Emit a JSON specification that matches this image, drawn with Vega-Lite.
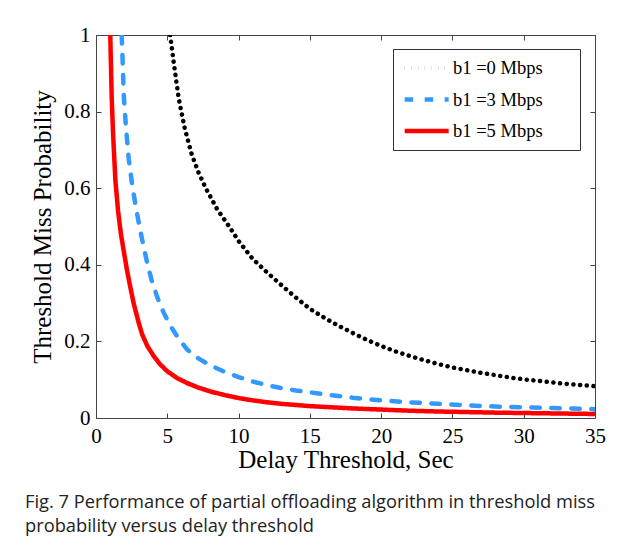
{
  "$schema": "https://vega.github.io/schema/vega-lite/v6.json",
  "autosize": {"type": "none"},
  "width": 499,
  "height": 383,
  "padding": {"left": 96, "top": 35, "right": 31, "bottom": 129},
  "background": "white",
  "title": {
    "text": ["Fig. 7 Performance of partial offloading algorithm in threshold miss", "probability versus delay threshold"],
    "orient": "bottom",
    "anchor": "start",
    "frame": "group",
    "dx": -71,
    "offset": 22,
    "font": "Open Sans",
    "fontSize": 18.3,
    "fontWeight": "normal",
    "color": "#222222",
    "lineHeight": 24
  },
  "config": {
    "view": {"stroke": null},
    "axis": {
      "grid": false,
      "domainColor": "#444444",
      "tickColor": "#444444",
      "labelFont": "Liberation Serif",
      "labelFontSize": 21,
      "labelColor": "black",
      "labelFlush": false,
      "titleFont": "Liberation Serif",
      "titleFontSize": 25,
      "titleFontWeight": "normal",
      "titleColor": "black"
    }
  },
  "data": {
    "values": [
      {"s": "b1 =0 Mbps", "x": 5.2, "y": 1.0},
      {"s": "b1 =0 Mbps", "x": 5.5, "y": 0.915},
      {"s": "b1 =0 Mbps", "x": 5.8, "y": 0.835},
      {"s": "b1 =0 Mbps", "x": 6.2, "y": 0.76},
      {"s": "b1 =0 Mbps", "x": 6.7, "y": 0.69},
      {"s": "b1 =0 Mbps", "x": 7.2, "y": 0.64},
      {"s": "b1 =0 Mbps", "x": 7.7, "y": 0.6},
      {"s": "b1 =0 Mbps", "x": 8.5, "y": 0.545},
      {"s": "b1 =0 Mbps", "x": 9.4, "y": 0.497},
      {"s": "b1 =0 Mbps", "x": 10, "y": 0.462},
      {"s": "b1 =0 Mbps", "x": 11, "y": 0.415},
      {"s": "b1 =0 Mbps", "x": 12, "y": 0.38},
      {"s": "b1 =0 Mbps", "x": 13, "y": 0.347},
      {"s": "b1 =0 Mbps", "x": 14, "y": 0.315},
      {"s": "b1 =0 Mbps", "x": 15, "y": 0.285},
      {"s": "b1 =0 Mbps", "x": 16, "y": 0.262},
      {"s": "b1 =0 Mbps", "x": 17, "y": 0.241},
      {"s": "b1 =0 Mbps", "x": 18, "y": 0.222},
      {"s": "b1 =0 Mbps", "x": 19, "y": 0.204},
      {"s": "b1 =0 Mbps", "x": 20, "y": 0.188},
      {"s": "b1 =0 Mbps", "x": 21, "y": 0.174},
      {"s": "b1 =0 Mbps", "x": 22, "y": 0.162},
      {"s": "b1 =0 Mbps", "x": 23, "y": 0.151},
      {"s": "b1 =0 Mbps", "x": 24, "y": 0.141},
      {"s": "b1 =0 Mbps", "x": 25, "y": 0.132},
      {"s": "b1 =0 Mbps", "x": 26, "y": 0.125},
      {"s": "b1 =0 Mbps", "x": 27, "y": 0.118},
      {"s": "b1 =0 Mbps", "x": 28, "y": 0.112},
      {"s": "b1 =0 Mbps", "x": 29, "y": 0.106},
      {"s": "b1 =0 Mbps", "x": 30, "y": 0.101},
      {"s": "b1 =0 Mbps", "x": 31, "y": 0.097},
      {"s": "b1 =0 Mbps", "x": 32, "y": 0.093},
      {"s": "b1 =0 Mbps", "x": 33, "y": 0.089},
      {"s": "b1 =0 Mbps", "x": 34, "y": 0.086},
      {"s": "b1 =0 Mbps", "x": 35, "y": 0.083},
      {"s": "b1 =3 Mbps", "x": 1.8, "y": 1.0},
      {"s": "b1 =3 Mbps", "x": 1.88, "y": 0.92},
      {"s": "b1 =3 Mbps", "x": 1.95, "y": 0.84},
      {"s": "b1 =3 Mbps", "x": 2.1, "y": 0.76},
      {"s": "b1 =3 Mbps", "x": 2.3, "y": 0.675},
      {"s": "b1 =3 Mbps", "x": 2.53, "y": 0.61},
      {"s": "b1 =3 Mbps", "x": 2.8, "y": 0.55},
      {"s": "b1 =3 Mbps", "x": 3.0, "y": 0.51},
      {"s": "b1 =3 Mbps", "x": 3.24, "y": 0.465},
      {"s": "b1 =3 Mbps", "x": 3.59, "y": 0.405},
      {"s": "b1 =3 Mbps", "x": 3.9, "y": 0.36},
      {"s": "b1 =3 Mbps", "x": 4.3, "y": 0.315},
      {"s": "b1 =3 Mbps", "x": 4.75, "y": 0.275},
      {"s": "b1 =3 Mbps", "x": 5.23, "y": 0.24},
      {"s": "b1 =3 Mbps", "x": 5.8, "y": 0.207},
      {"s": "b1 =3 Mbps", "x": 6.41, "y": 0.178},
      {"s": "b1 =3 Mbps", "x": 7.2, "y": 0.155},
      {"s": "b1 =3 Mbps", "x": 8.05, "y": 0.137},
      {"s": "b1 =3 Mbps", "x": 9, "y": 0.121},
      {"s": "b1 =3 Mbps", "x": 10, "y": 0.107},
      {"s": "b1 =3 Mbps", "x": 11, "y": 0.095},
      {"s": "b1 =3 Mbps", "x": 12, "y": 0.086},
      {"s": "b1 =3 Mbps", "x": 13, "y": 0.078},
      {"s": "b1 =3 Mbps", "x": 14, "y": 0.072},
      {"s": "b1 =3 Mbps", "x": 15, "y": 0.067},
      {"s": "b1 =3 Mbps", "x": 16, "y": 0.062},
      {"s": "b1 =3 Mbps", "x": 18, "y": 0.053},
      {"s": "b1 =3 Mbps", "x": 20, "y": 0.046},
      {"s": "b1 =3 Mbps", "x": 22, "y": 0.041},
      {"s": "b1 =3 Mbps", "x": 24, "y": 0.037},
      {"s": "b1 =3 Mbps", "x": 26, "y": 0.033},
      {"s": "b1 =3 Mbps", "x": 28, "y": 0.03},
      {"s": "b1 =3 Mbps", "x": 30, "y": 0.028},
      {"s": "b1 =3 Mbps", "x": 32, "y": 0.026},
      {"s": "b1 =3 Mbps", "x": 35, "y": 0.023},
      {"s": "b1 =5 Mbps", "x": 1.0, "y": 1.0},
      {"s": "b1 =5 Mbps", "x": 1.05, "y": 0.92},
      {"s": "b1 =5 Mbps", "x": 1.1, "y": 0.84},
      {"s": "b1 =5 Mbps", "x": 1.2, "y": 0.74},
      {"s": "b1 =5 Mbps", "x": 1.36, "y": 0.62},
      {"s": "b1 =5 Mbps", "x": 1.55, "y": 0.54},
      {"s": "b1 =5 Mbps", "x": 1.75, "y": 0.48},
      {"s": "b1 =5 Mbps", "x": 1.95, "y": 0.435},
      {"s": "b1 =5 Mbps", "x": 2.18, "y": 0.385},
      {"s": "b1 =5 Mbps", "x": 2.4, "y": 0.343},
      {"s": "b1 =5 Mbps", "x": 2.65, "y": 0.298},
      {"s": "b1 =5 Mbps", "x": 3.0, "y": 0.248},
      {"s": "b1 =5 Mbps", "x": 3.24, "y": 0.218},
      {"s": "b1 =5 Mbps", "x": 3.6, "y": 0.188},
      {"s": "b1 =5 Mbps", "x": 4.06, "y": 0.161},
      {"s": "b1 =5 Mbps", "x": 4.5, "y": 0.14},
      {"s": "b1 =5 Mbps", "x": 5.0, "y": 0.122},
      {"s": "b1 =5 Mbps", "x": 5.7, "y": 0.104},
      {"s": "b1 =5 Mbps", "x": 6.41, "y": 0.091},
      {"s": "b1 =5 Mbps", "x": 7.2, "y": 0.079},
      {"s": "b1 =5 Mbps", "x": 8.05, "y": 0.069},
      {"s": "b1 =5 Mbps", "x": 9, "y": 0.06},
      {"s": "b1 =5 Mbps", "x": 10, "y": 0.052},
      {"s": "b1 =5 Mbps", "x": 11, "y": 0.046},
      {"s": "b1 =5 Mbps", "x": 12, "y": 0.041},
      {"s": "b1 =5 Mbps", "x": 13, "y": 0.037},
      {"s": "b1 =5 Mbps", "x": 14, "y": 0.034},
      {"s": "b1 =5 Mbps", "x": 15, "y": 0.031},
      {"s": "b1 =5 Mbps", "x": 16, "y": 0.029},
      {"s": "b1 =5 Mbps", "x": 18, "y": 0.025},
      {"s": "b1 =5 Mbps", "x": 20, "y": 0.022},
      {"s": "b1 =5 Mbps", "x": 22, "y": 0.019},
      {"s": "b1 =5 Mbps", "x": 24, "y": 0.017},
      {"s": "b1 =5 Mbps", "x": 26, "y": 0.0155},
      {"s": "b1 =5 Mbps", "x": 28, "y": 0.014},
      {"s": "b1 =5 Mbps", "x": 30, "y": 0.013},
      {"s": "b1 =5 Mbps", "x": 32, "y": 0.012},
      {"s": "b1 =5 Mbps", "x": 35, "y": 0.0105}
    ]
  },
  "layer": [
    {
      "mark": {"type": "line", "clip": true, "strokeWidth": 4.5, "strokeCap": "round", "strokeJoin": "round"},
      "encoding": {
        "x": {
          "field": "x", "type": "quantitative",
          "scale": {"domain": [0, 35], "nice": false, "zero": false},
          "axis": {
            "orient": "bottom",
            "values": [0, 5, 10, 15, 20, 25, 30, 35],
            "tickSize": -5,
            "labelPadding": 12,
            "title": "Delay Threshold, Sec",
            "titlePadding": 1
          }
        },
        "y": {
          "field": "y", "type": "quantitative",
          "scale": {"domain": [0, 1], "nice": false, "zero": false},
          "axis": {
            "orient": "left",
            "values": [0, 0.2, 0.4, 0.6, 0.8, 1],
            "format": "~g",
            "tickSize": -5,
            "labelPadding": 11,
            "title": "Threshold Miss Probability",
            "titlePadding": 8
          }
        },
        "color": {
          "field": "s", "type": "nominal",
          "scale": {"domain": ["b1 =0 Mbps", "b1 =3 Mbps", "b1 =5 Mbps"], "range": ["#000000", "#3399ff", "#ff0000"]},
          "legend": {
            "title": null,
            "orient": "none",
            "legendX": 297,
            "legendY": 14,
            "strokeColor": "#333333",
            "fillColor": "white",
            "padding": 9,
            "symbolType": "M-1,0H5",
            "symbolSize": 215,
            "symbolStrokeWidth": 4.5,
            "labelFont": "Liberation Serif",
            "labelFontSize": 18.5,
            "labelColor": "black",
            "labelOffset": 31,
            "labelLimit": 300,
            "rowPadding": 11.5,
            "labelExpr": "datum.label + '\u2800\u2800'"
          }
        },
        "strokeDash": {
          "field": "s", "type": "nominal",
          "scale": {"domain": ["b1 =0 Mbps", "b1 =3 Mbps", "b1 =5 Mbps"], "range": [[0.1, 6.6], [8.5, 11.5], [1, 0]]},
          "legend": null
        }
      }
    },
    {
      "mark": {"type": "point", "opacity": 0},
      "encoding": {
        "x": {
          "field": "x", "type": "quantitative",
          "scale": {"domain": [0, 35], "nice": false, "zero": false},
          "axis": {"orient": "top", "values": [0, 5, 10, 15, 20, 25, 30, 35], "tickSize": -5, "labels": false, "title": null}
        },
        "y": {
          "field": "y", "type": "quantitative",
          "scale": {"domain": [0, 1], "nice": false, "zero": false},
          "axis": {"orient": "right", "values": [0, 0.2, 0.4, 0.6, 0.8, 1], "tickSize": -5, "labels": false, "title": null}
        }
      }
    }
  ],
  "resolve": {"axis": {"x": "independent", "y": "independent"}}
}
